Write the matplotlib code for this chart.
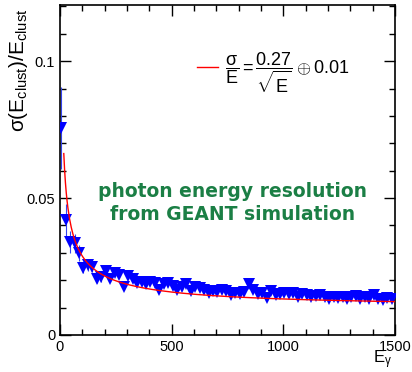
import numpy as np
import matplotlib
matplotlib.use("Agg")
import matplotlib.pyplot as plt
from matplotlib.ticker import MultipleLocator

plt.rcParams['font.family'] = ['Liberation Sans', 'DejaVu Sans']
plt.rcParams['mathtext.fontset'] = 'custom'
plt.rcParams['mathtext.rm'] = 'Liberation Sans'
plt.rcParams['mathtext.it'] = 'Liberation Sans'
plt.rcParams['mathtext.bf'] = 'Liberation Sans:bold'

energy = [5, 25, 45, 65, 85, 105, 125, 145, 165, 185, 205, 225, 245, 265, 285,
          305, 325, 345, 365, 385, 405, 425, 445, 465, 485, 505, 525, 545, 565, 585,
          605, 625, 645, 665, 685, 705, 725, 745, 765, 785, 805, 825, 845, 865, 885,
          905, 925, 945, 965, 985, 1005, 1025, 1045, 1065, 1085, 1105, 1125, 1145, 1165, 1185,
          1205, 1225, 1245, 1265, 1285, 1305, 1325, 1345, 1365, 1385, 1405, 1425, 1445, 1465, 1485]
resolution = [0.0755, 0.042, 0.034, 0.0335, 0.030, 0.0245, 0.0255, 0.025, 0.0205, 0.021,
              0.0232, 0.0205, 0.0228, 0.022, 0.0175, 0.0215, 0.0205, 0.019, 0.0195, 0.0185,
              0.0195, 0.019, 0.0165, 0.0185, 0.019, 0.018, 0.0165, 0.0175, 0.0185, 0.016,
              0.0175, 0.017, 0.0165, 0.0155, 0.0162, 0.0158, 0.0165, 0.016, 0.0145, 0.0155,
              0.015, 0.0158, 0.0185, 0.0165, 0.015, 0.0152, 0.0135, 0.016, 0.0145, 0.015,
              0.0155, 0.0148, 0.0153, 0.014, 0.0148, 0.0145, 0.0138, 0.0143, 0.0145, 0.014,
              0.0132, 0.0138, 0.0135, 0.014, 0.0132, 0.0138, 0.0142, 0.013, 0.0138, 0.0133,
              0.0145, 0.0132, 0.0128, 0.0135, 0.0132]
errors = [0.015, 0.006, 0.004, 0.0035, 0.003, 0.002, 0.002, 0.002, 0.0015, 0.0015] + [0.001] * 65

fit_a = 0.27
fit_b = 0.01
fit_e = np.linspace(17, 1500, 400)
fit_res = np.sqrt((fit_a / np.sqrt(fit_e)) ** 2 + fit_b ** 2)

fig = plt.figure(figsize=(4.12, 3.72), dpi=100)
ax = fig.add_axes([0.1456, 0.0995, 0.8131, 0.8871])

ax.errorbar(energy, resolution, yerr=errors, fmt='none', ecolor='#3344ee', elinewidth=0.8, zorder=2)
ax.plot(energy, resolution, linestyle='none', marker='v', markersize=9,
        color='#0000ff', markeredgewidth=0, zorder=3)
ax.plot(fit_e, fit_res, color='#ff0000', linewidth=1.0, zorder=4,
        label=r'$\dfrac{\sigma}{E} = \dfrac{0.27}{\sqrt{E}} \oplus 0.01$')

ax.set_xlim(0, 1500)
ax.set_ylim(0, 0.1205)
ax.xaxis.set_major_locator(MultipleLocator(500))
ax.xaxis.set_minor_locator(MultipleLocator(100))
ax.yaxis.set_major_locator(MultipleLocator(0.05))
ax.yaxis.set_minor_locator(MultipleLocator(0.01))
ax.set_xticks([0, 500, 1000, 1500])
ax.set_xticklabels(['0', '500', '1000', '1500'])
ax.set_yticks([0, 0.05, 0.1])
ax.set_yticklabels(['0', '0.05', '0.1'])
ax.tick_params(which='both', direction='in', top=True, right=True, labelsize=10.5, width=1)
ax.tick_params(which='major', length=8)
ax.tick_params(which='minor', length=4)
for s in ax.spines.values():
    s.set_linewidth(1.2)

ax.set_ylabel(r'$\sigma$(E$_{\rm clust}$)/E$_{\rm clust}$', fontsize=15)
ax.yaxis.set_label_coords(-0.125, 0.99)
ax.yaxis.label.set_horizontalalignment('right')
ax.yaxis.label.set_verticalalignment('center')
ax.set_xlabel(r'E$_{\gamma}$', fontsize=12)
ax.xaxis.set_label_coords(0.964, -0.075)
ax.xaxis.label.set_horizontalalignment('center')
ax.xaxis.label.set_verticalalignment('center')

leg = ax.legend(loc='center left', bbox_to_anchor=(0.409, 0.794), frameon=False,
                fontsize=13, handlelength=1.15, handletextpad=0.4,
                borderpad=0, borderaxespad=0)

ax.text(0.514, 0.40, 'photon energy resolution\nfrom GEANT simulation',
        transform=ax.transAxes, ha='center', va='center', color='#1b7f45',
        fontsize=13.5, fontweight='bold', family='DejaVu Sans', linespacing=1.25)

fig.savefig('out.png', dpi=100)
